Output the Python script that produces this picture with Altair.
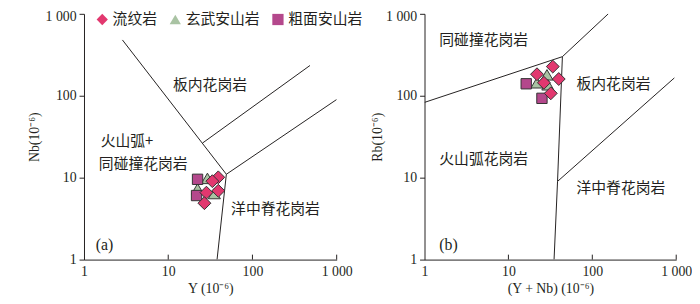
import altair as alt
import pandas as pd

# ---------------- data ----------------
TYPES = ["流纹岩", "玄武安山岩", "粗面安山岩"]
SHAPES = ["diamond", "triangle-up", "square"]
FILLS = ["#E2386F", "#A9C3A3", "#B4488C"]
SIZES = [170, 150, 110]

# (a) Y - Nb
a_rhy_x = [39.3, 33.4, 39.3, 28.4, 26.9]
a_rhy_y = [10.1, 9.06, 6.92, 6.56, 4.88]
a_bas_x = [29.2, 22.3, 35.3]
a_bas_y = [9.8, 7.3, 6.4]
a_tra_x = [22.3, 21.7]
a_tra_y = [9.55, 6.05]

# (b) (Y+Nb) - Rb
b_rhy_x = [33.8, 21.9, 39.8, 26.5, 32.0]
b_rhy_y = [227, 183, 160, 144, 107]
b_bas_x = [28.8, 21.9, 29.5]
b_bas_y = [180, 144, 136]
b_tra_x = [16.3, 25.1]
b_tra_y = [140, 93]

# boundary lines (a)
a_line1_x = [2.86, 49, 38]
a_line1_y = [480, 11, 1]
a_line2_x = [49, 1000]
a_line2_y = [11, 90]
a_line3_x = [25.6, 482]
a_line3_y = [26.5, 234]

# boundary lines (b)
b_line1_x = [1, 44, 155]
b_line1_y = [83, 300, 1000]
b_line2_x = [44, 38.5, 35]
b_line2_y = [300, 9, 1]
b_line3_x = [38.5, 950]
b_line3_y = [9, 165]

# field labels
a_lab_text = ["板内花岗岩", "火山弧+", "同碰撞花岗岩", "洋中脊花岗岩"]
a_lab_x = [11.4, 1.58, 1.5, 55.8]
a_lab_y = [136, 28, 14.7, 4.15]
b_lab_text = ["同碰撞花岗岩", "板内花岗岩", "火山弧花岗岩", "洋中脊花岗岩"]
b_lab_x = [1.5, 64.8, 1.5, 64.8]
b_lab_y = [484, 140, 17, 7.57]

a_tag = ["(a)"]
a_tag_x = [1.38]
a_tag_y = [1.5]
b_tag = ["(b)"]
b_tag_x = [1.5]
b_tag_y = [1.5]

TICKS = [1, 10, 100, 1000]
INNER_TICKS = [10, 100, 1000]

W_A, W_B, H = 256, 255, 249
INK = "#231f20"
SERIF = "Liberation Serif"
CJK = "Noto Sans CJK SC"


def points_df(groups):
    rows = []
    # draw order: triangles, squares, diamonds on top
    for idx in (1, 2, 0):
        xs, ys = groups[idx]
        for x, y in zip(xs, ys):
            rows.append({"x": x, "y": y, "type": TYPES[idx], "sz": SIZES[idx], "o": len(rows)})
    return pd.DataFrame(rows)


def lines_df(lines):
    rows = []
    for s, (xs, ys) in enumerate(lines):
        for i, (x, y) in enumerate(zip(xs, ys)):
            rows.append({"seg": s, "i": i, "x": x, "y": y})
    return pd.DataFrame(rows)


label_expr = "datum.value >= 1000 ? '1 000' : format(datum.value, 'd')"


def panel(pts, lns, labs, tag, width, xtitle, ytitle, ytitle_x, show_legend):
    xs = alt.Scale(type="log", domain=[1, 1000], nice=False)
    ys = alt.Scale(type="log", domain=[1, 1000], nice=False)
    xaxis = alt.Axis(values=TICKS, labelExpr=label_expr, ticks=False, grid=False,
                     domainColor=INK, domainWidth=1, labelColor=INK, labelFont=SERIF,
                     labelFontSize=14, labelPadding=5, labelFlush=False, labelOverlap=False,
                     title=xtitle, titleFont=SERIF, titleFontSize=14, titleFontWeight="normal",
                     titleColor=INK, titlePadding=3)
    yaxis = alt.Axis(values=TICKS, labelExpr=label_expr, tickSize=5, tickColor=INK, grid=False,
                     domainColor=INK, domainWidth=1, labelColor=INK, labelFont=SERIF,
                     labelFontSize=14, labelPadding=3, labelFlush=False, labelOverlap=False,
                     labelOffset={"condition": {"test": "datum.value >= 1000", "value": 3},
                                  "value": 0},
                     title=ytitle, titleFont=SERIF, titleFontSize=14, titleFontWeight="normal",
                     titleColor=INK, titleX=ytitle_x)

    base = alt.Chart(lns).mark_line(color=INK, strokeWidth=1, clip=True).encode(
        x=alt.X("x:Q", scale=xs, axis=xaxis),
        y=alt.Y("y:Q", scale=ys, axis=yaxis),
        detail="seg:N",
        order="i:Q",
    )

    ticks = alt.Chart(pd.DataFrame({"t": INNER_TICKS})).mark_rule(color=INK, strokeWidth=1).encode(
        x=alt.X("t:Q", scale=xs),
        y=alt.value(H),
        y2=alt.value(H - 5),
    )

    txt = alt.Chart(labs).mark_text(align="left", baseline="middle", font=CJK,
                                    fontSize=15, color=INK).encode(
        x=alt.X("x:Q", scale=xs), y=alt.Y("y:Q", scale=ys), text="t:N")

    tg = alt.Chart(tag).mark_text(align="left", baseline="middle", font=SERIF,
                                  fontSize=16, color=INK).encode(
        x=alt.X("x:Q", scale=xs), y=alt.Y("y:Q", scale=ys), text="t:N")

    if show_legend:
        leg = alt.Legend(orient="none", legendX=11, legendY=-2, direction="horizontal",
                         title=None, labelFont=CJK, labelFontSize=15, labelColor=INK,
                         symbolSize=130, symbolStrokeColor="#333333", symbolStrokeWidth=1,
                         symbolOpacity=1, columnPadding=9, labelOffset=3, padding=0)
    else:
        leg = None

    pts_layer = alt.Chart(pts).mark_point(filled=True, stroke="#333333", strokeWidth=1,
                                          opacity=1).encode(
        x=alt.X("x:Q", scale=xs),
        y=alt.Y("y:Q", scale=ys),
        shape=alt.Shape("type:N", scale=alt.Scale(domain=TYPES, range=SHAPES), legend=leg),
        fill=alt.Fill("type:N", scale=alt.Scale(domain=TYPES, range=FILLS), legend=leg),
        size=alt.Size("sz:Q", scale=None),
        order="o:Q",
    )

    return alt.layer(base, ticks, txt, tg, pts_layer).properties(width=width, height=H)


pa = points_df([(a_rhy_x, a_rhy_y), (a_bas_x, a_bas_y), (a_tra_x, a_tra_y)])
pb = points_df([(b_rhy_x, b_rhy_y), (b_bas_x, b_bas_y), (b_tra_x, b_tra_y)])
la = lines_df([(a_line1_x, a_line1_y), (a_line2_x, a_line2_y), (a_line3_x, a_line3_y)])
lb = lines_df([(b_line1_x, b_line1_y), (b_line2_x, b_line2_y), (b_line3_x, b_line3_y)])
ta = pd.DataFrame({"t": a_lab_text, "x": a_lab_x, "y": a_lab_y})
tb = pd.DataFrame({"t": b_lab_text, "x": b_lab_x, "y": b_lab_y})
ga = pd.DataFrame({"t": a_tag, "x": a_tag_x, "y": a_tag_y})
gb = pd.DataFrame({"t": b_tag, "x": b_tag_x, "y": b_tag_y})

left = panel(pa, la, ta, ga, W_A, "Y (10⁻⁶)", "Nb(10⁻⁶)", -43, True)
right = panel(pb, lb, tb, gb, W_B, "(Y + Nb) (10⁻⁶)", "Rb(10⁻⁶)", -41, False)

chart = alt.hconcat(left, right, spacing=89, bounds="flush").resolve_scale(
    fill="independent", shape="independent"
).properties(
    padding={"left": 20, "top": 0, "right": 0, "bottom": 0},
    background="white",
).configure_view(stroke=None)

chart.save("out.html", embed_options={"renderer": "svg", "actions": False})
